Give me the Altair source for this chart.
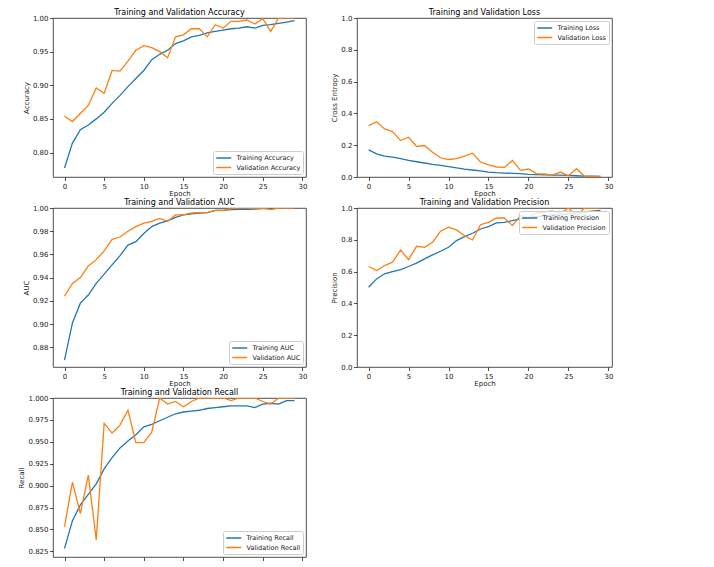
import altair as alt
import pandas as pd

# ---------------- data ----------------
epochs = list(range(30))

train_acc = [0.777, 0.814, 0.834, 0.841, 0.850, 0.860, 0.873, 0.885, 0.898, 0.910,
             0.922, 0.938, 0.946, 0.952, 0.962, 0.966, 0.972, 0.974, 0.978, 0.980,
             0.982, 0.984, 0.985, 0.987, 0.985, 0.989, 0.990, 0.992, 0.994, 0.996]
val_acc = [0.854, 0.846, 0.858, 0.870, 0.896, 0.888, 0.922, 0.921, 0.936, 0.952,
           0.959, 0.956, 0.950, 0.941, 0.972, 0.975, 0.984, 0.984, 0.972, 0.990,
           0.985, 0.995, 0.995, 0.997, 0.991, 0.999, 0.980, 1.000, 1.000, 1.000]

train_loss = [0.171, 0.146, 0.131, 0.125, 0.115, 0.104, 0.096, 0.088, 0.079, 0.073,
              0.065, 0.058, 0.050, 0.044, 0.038, 0.031, 0.027, 0.025, 0.023, 0.021,
              0.017, 0.015, 0.013, 0.012, 0.012, 0.010, 0.008, 0.006, 0.005, 0.004]
val_loss = [0.323, 0.348, 0.302, 0.285, 0.229, 0.250, 0.192, 0.198, 0.156, 0.121,
            0.110, 0.115, 0.131, 0.150, 0.094, 0.077, 0.063, 0.060, 0.104, 0.042,
            0.050, 0.021, 0.019, 0.012, 0.031, 0.008, 0.052, 0.006, 0.004, 0.004]

train_auc = [0.869, 0.901, 0.918, 0.925, 0.935, 0.943, 0.951, 0.959, 0.968, 0.971,
             0.978, 0.984, 0.987, 0.989, 0.992, 0.994, 0.995, 0.9957, 0.996, 0.998,
             0.998, 0.9986, 0.9989, 0.9989, 0.9991, 0.9994, 0.9994, 0.9997, 0.9997, 0.9997]
val_auc = [0.924, 0.935, 0.940, 0.950, 0.9555, 0.963, 0.973, 0.975, 0.980, 0.984,
           0.987, 0.9885, 0.991, 0.9885, 0.994, 0.994, 0.9957, 0.996, 0.996, 0.998,
           0.998, 0.9994, 1.000, 1.000, 0.9997, 1.000, 0.9986, 1.000, 1.000, 1.000]

train_prec = [0.502, 0.554, 0.586, 0.600, 0.613, 0.632, 0.653, 0.680, 0.705, 0.728,
              0.753, 0.795, 0.820, 0.841, 0.868, 0.883, 0.906, 0.910, 0.921, 0.931,
              0.940, 0.946, 0.951, 0.957, 0.955, 0.965, 0.970, 0.975, 0.980, 0.985]
val_prec = [0.632, 0.607, 0.638, 0.659, 0.736, 0.676, 0.759, 0.753, 0.785, 0.854,
            0.879, 0.862, 0.826, 0.799, 0.895, 0.910, 0.937, 0.937, 0.889, 0.952,
            0.940, 0.970, 0.975, 0.980, 0.965, 1.000, 0.950, 1.000, 1.000, 1.000]

train_rec = [0.828, 0.860, 0.878, 0.890, 0.902, 0.919, 0.932, 0.943, 0.951, 0.958,
             0.967, 0.970, 0.974, 0.978, 0.982, 0.984, 0.985, 0.986, 0.988, 0.989,
             0.990, 0.991, 0.991, 0.991, 0.989, 0.993, 0.994, 0.993, 0.997, 0.997]
val_rec = [0.853, 0.904, 0.868, 0.912, 0.838, 0.971, 0.960, 0.969, 0.986, 0.949,
           0.949, 0.961, 1.000, 0.993, 0.996, 0.990, 0.996, 1.000, 1.000, 1.000,
           1.000, 0.997, 1.000, 1.000, 1.000, 0.996, 0.993, 1.000, 1.000, 1.000]

x_ticks = [0, 5, 10, 15, 20, 25, 30]

# ---------------- styling ----------------
FONT = "DejaVu Sans"
BLUE = "#1f77b4"
ORANGE = "#ff7f0e"
INK = "#222222"


def panel(title, ytitle, train, val, names, ydomain, yticks, yfmt, legend_orient,
          width, height, show_x_labels=True):
    df = pd.DataFrame({
        "epoch": epochs + epochs,
        "series": [names[0]] * len(epochs) + [names[1]] * len(epochs),
        "value": train + val,
    })
    x = alt.X(
        "epoch:Q",
        scale=alt.Scale(domain=[-1.45, 30.45], nice=False, zero=False),
        axis=alt.Axis(values=x_ticks, format="d",
                      title="Epoch" if show_x_labels else None,
                      labels=show_x_labels, titlePadding=0),
    )
    y = alt.Y(
        "value:Q",
        scale=alt.Scale(domain=ydomain, nice=False, zero=False),
        axis=alt.Axis(values=yticks, format=yfmt, title=ytitle),
    )
    color = alt.Color(
        "series:N",
        scale=alt.Scale(domain=names, range=[BLUE, ORANGE]),
        legend=alt.Legend(
            orient=legend_orient, title=None, offset=3, padding=2.5, rowPadding=1.5,
            fillColor="rgba(255,255,255,0.8)", strokeColor="#cccccc",
            cornerRadius=2, symbolType="M-1,0H3", symbolSize=56,
            symbolStrokeWidth=1.5, labelFontSize=6.5, labelFont=FONT,
            labelColor=INK, labelOffset=12,
        ),
    )
    return (
        alt.Chart(df)
        .mark_line(strokeWidth=1.3, clip=True)
        .encode(x=x, y=y, color=color, order="epoch:Q")
        .properties(
            width=width, height=height,
            title=alt.TitleParams(title, fontSize=8, font=FONT, fontWeight="normal",
                                  color="black", offset=-3, anchor="middle",
                                  frame="group"),
        )
    )


W1, W2, H = 253, 255, 159

p1 = panel("Training and Validation Accuracy", "Accuracy", train_acc, val_acc,
           ["Training Accuracy", "Validation Accuracy"], [0.7636, 1.0],
           [0.80, 0.85, 0.90, 0.95, 1.00], ".2f", "bottom-right", W1, H)
p2 = panel("Training and Validation Loss", "Cross Entropy", train_loss, val_loss,
           ["Training Loss", "Validation Loss"], [0.0, 1.0],
           [0.0, 0.2, 0.4, 0.6, 0.8, 1.0], ".1f", "top-right", W2, H)
p3 = panel("Training and Validation AUC", "AUC", train_auc, val_auc,
           ["Training AUC", "Validation AUC"], [0.863, 1.0],
           [0.88, 0.90, 0.92, 0.94, 0.96, 0.98, 1.00], ".2f", "bottom-right", W1, H)
p4 = panel("Training and Validation Precision", "Precision", train_prec, val_prec,
           ["Training Precision", "Validation Precision"], [0.0, 1.0],
           [0.0, 0.2, 0.4, 0.6, 0.8, 1.0], ".1f", "top-right", W2, H)
p5 = panel("Training and Validation Recall", "Recall", train_rec, val_rec,
           ["Training Recall", "Validation Recall"], [0.8185, 1.0],
           [0.825, 0.850, 0.875, 0.900, 0.925, 0.950, 0.975, 1.000], ".3f",
           "bottom-right", W1, H, show_x_labels=False)

chart = (
    alt.concat(p1, p2, p3, p4, p5, columns=2, spacing={"row": 31, "column": 51},
               bounds="flush")
    .resolve_scale(color="independent", x="independent", y="independent")
    .resolve_legend(color="independent")
    .properties(padding={"left": 9, "top": 0, "right": 5, "bottom": 0},
                background="white")
    .configure_view(stroke=INK, strokeWidth=0.8)
    .configure_axis(
        domain=False, grid=False, ticks=True, tickSize=3.5, tickWidth=0.8,
        tickColor=INK, labelFont=FONT, labelFontSize=7, labelColor=INK,
        labelPadding=1.5, labelOverlap=False, labelFlush=False,
        titleFont=FONT, titleFontSize=7, titleFontWeight="normal",
        titleColor=INK, titlePadding=3,
    )
)

chart.save("out.html", embed_options={"renderer": "svg", "actions": False})
